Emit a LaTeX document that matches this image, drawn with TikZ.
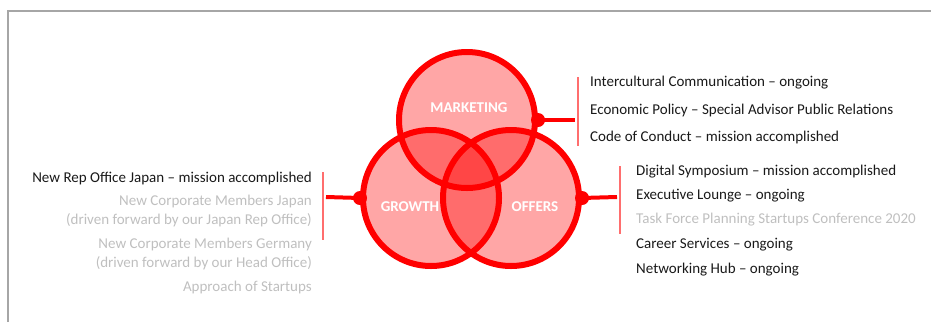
\documentclass[tikz,border=0pt]{standalone}
\usepackage{fontspec}
\setmainfont{Carlito}
\usepackage{tikz}

\definecolor{vennred}{RGB}{255,0,0}
\definecolor{bracketred}{RGB}{255,110,110}
\definecolor{framegray}{RGB}{166,166,166}
\definecolor{donetext}{RGB}{25,25,25}
\definecolor{opentext}{RGB}{191,191,191}

\tikzset{
    venn/.style={circle,minimum size=136pt,inner sep=0pt,fill=vennred,fill opacity=0.35},
    vennring/.style={circle,minimum size=136pt,inner sep=0pt,draw=vennred,line width=6pt},
    venntitle/.style={white,font=\bfseries\fontsize{15}{17}\selectfont},
    knob/.style={circle,fill=vennred,minimum size=14pt,inner sep=0pt},
    link/.style={vennred,line width=4pt},
    brace/.style={bracketred,line width=1.2pt},
    item/.style={font=\fontsize{15}{18.5}\selectfont,inner sep=0pt},
}

\begin{document}
\begin{tikzpicture}[x=1pt,y=-1pt]
    \useasboundingbox (0,0) rectangle (931,322);
    \draw [framegray,line width=2pt](8,322) -- (8,11) -- (931,11);
    % circles
    \node[venn] (mark) at (467,120) {};
    \node[venn] (grow) at (431,198) {};
    \node[venn] (offer) at (511,198) {};
    \node[vennring] (markring) at (467,120) {};
    \node[vennring] (growring) at (431,198) {};
    \node[vennring] (offerring) at (511,198) {};
    \node[venntitle] (marklabel) at (469,108) {MARKETING};
    \node[venntitle] (growlabel) at (410,207) {GROWTH};
    \node[venntitle] (offerlabel) at (535,207) {OFFERS};
    % connectors
    \node[knob] (markknob) at (markring.east) {};
    \node[knob] (growknob) at (growring.west) {};
    \node[knob] (offerknob) at (offerring.east) {};
    \coordinate (markend) at (575,120);
    \coordinate (growend) at (326,197);
    \coordinate (offerend) at (617,197);
    \draw [link](markknob.center) -- (markend);
    \draw [link](growknob.center) -- (growend);
    \draw [link](offerknob.center) -- (offerend);
    \coordinate (marktop) at (578,77);
    \coordinate (markbot) at (578,146);
    \coordinate (growtop) at (323,172);
    \coordinate (growbot) at (323,240);
    \coordinate (offertop) at (620,166);
    \coordinate (offerbot) at (620,234);
    \draw [brace](marktop) -- (markbot);
    \draw [brace](growtop) -- (growbot);
    \draw [brace](offertop) -- (offerbot);
    % marketing list
    \node[item,donetext,anchor=west] (m1) at (590,83) {Intercultural Communication -- ongoing};
    \node[item,donetext,anchor=west] (m2) at (590,110) {Economic Policy -- Special Advisor Public Relations};
    \node[item,donetext,anchor=west] (m3) at (590,137) {Code of Conduct -- mission accomplished};
    % offers list
    \node[item,donetext,anchor=west] (o1) at (636,172) {Digital Symposium -- mission accomplished};
    \node[item,donetext,anchor=west] (o2) at (636,196) {Executive Lounge -- ongoing};
    \node[item,opentext,anchor=west] (o3) at (636,220) {Task Force Planning Startups Conference 2020};
    \node[item,donetext,anchor=west] (o4) at (636,245) {Career Services -- ongoing};
    \node[item,donetext,anchor=west] (o5) at (636,270) {Networking Hub -- ongoing};
    % growth list
    \node[item,donetext,anchor=east] (g1) at (312,178) {New Rep Office Japan -- mission accomplished};
    \node[item,opentext,anchor=east,align=right] (g2) at (312,211) {New Corporate Members Japan\\(driven forward by our Japan Rep Office)};
    \node[item,opentext,anchor=east,align=right] (g3) at (312,254) {New Corporate Members Germany\\(driven forward by our Head Office)};
    \node[item,opentext,anchor=east] (g4) at (312,287) {Approach of Startups};
\end{tikzpicture}
\end{document}
